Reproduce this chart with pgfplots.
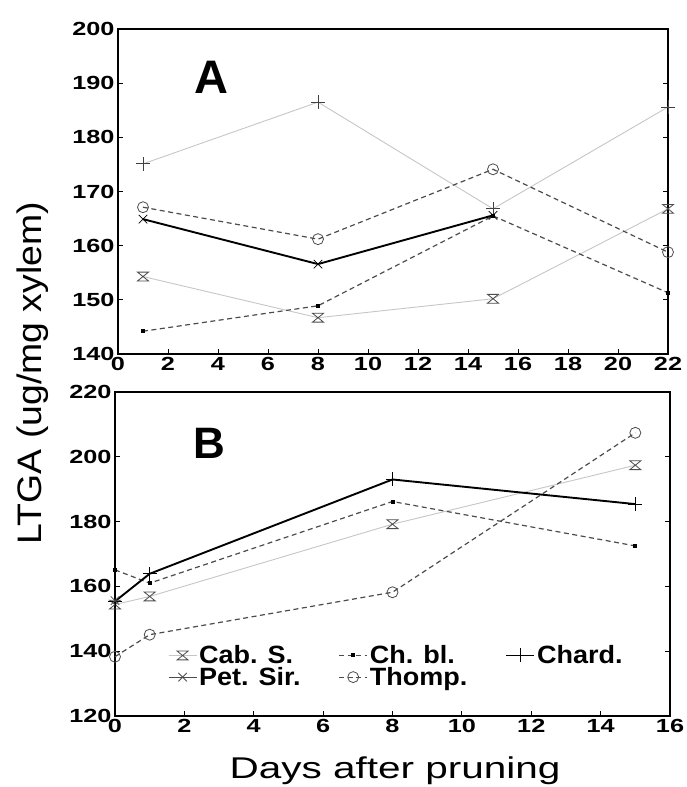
\documentclass[border=0pt]{standalone}
\usepackage{fontspec}
\setmainfont{Liberation Sans}
\newfontfamily\tickfont[FakeStretch=1.33]{Liberation Sans Bold}
\newfontfamily\legfont[FakeStretch=1.08]{Liberation Sans Bold}
\newfontfamily\labfont[FakeStretch=1.35]{Liberation Sans}
\newfontfamily\ylabfont[FakeStretch=1.1]{Liberation Sans}
\usepackage{pgfplots}
\pgfplotsset{compat=1.18}

\pgfdeclareplotmark{hourglass}{%
  \pgfpathmoveto{\pgfqpoint{-\pgfplotmarksize}{0.8\pgfplotmarksize}}%
  \pgfpathlineto{\pgfqpoint{\pgfplotmarksize}{0.8\pgfplotmarksize}}%
  \pgfpathlineto{\pgfqpoint{-\pgfplotmarksize}{-0.8\pgfplotmarksize}}%
  \pgfpathlineto{\pgfqpoint{\pgfplotmarksize}{-0.8\pgfplotmarksize}}%
  \pgfpathclose
  \pgfusepathqstroke}

\pgfplotsset{
  panel/.style={
    scale only axis, anchor=south west,
    axis line style={line width=1.3pt},
    tick style={black, line width=0.8pt},
    major tick length=5pt, tick align=inside,
    xtick pos=left, ytick pos=both, yticklabel pos=left,
    ticklabel style={font=\tickfont\fontsize{19}{20}\selectfont},
    /pgf/number format/assume math mode=true,
    clip=false,
    legend image code/.code={\draw[mark repeat=2,mark phase=2] plot coordinates {(0pt,0pt)(14pt,0pt)(28pt,0pt)};},
  },
  cabS/.style={gray!45, line width=0.9pt, mark=hourglass, mark size=5.5pt, mark options={solid, black!70, line width=0.8pt}},
  petS/.style={black, line width=1.9pt, mark=x, mark size=6pt, mark options={solid, line width=0.8pt}},
  chardL/.style={gray!45, line width=0.9pt, mark=+, mark size=7pt, mark options={solid, black!75, line width=0.8pt}},
  chardB/.style={black, line width=1.9pt, mark=+, mark size=7pt, mark options={solid, line width=0.9pt}},
  chbl/.style={black!70, line width=1.2pt, dash pattern=on 5pt off 3.5pt, mark=square*, mark size=1.4pt, mark options={solid, black}},
  thomp/.style={black!70, line width=1.2pt, dash pattern=on 5pt off 3.5pt, mark=o, mark size=5.5pt, mark options={solid, line width=0.8pt}},
}

\begin{document}
\begin{tikzpicture}
\useasboundingbox (0pt,0pt) rectangle (686pt,-787pt);

% Panel A
\begin{axis}[panel, at={(118pt,-354pt)}, width=550pt, height=325pt,
  xmin=0, xmax=22, ymin=140, ymax=200,
  xtick={0,2,...,22}, ytick={140,150,...,200}]
\addplot[cabS] coordinates {(1,154.3) (8,146.7) (15,150.2) (22,166.8)};
\addplot[chardL] coordinates {(1,175.1) (8,186.5) (15,166.8) (22,185.6)};
\addplot[chbl] coordinates {(1,144.2) (8,148.9) (15,165.5) (22,151.3)};
\addplot[thomp] coordinates {(1,167.1) (8,161.2) (15,174.1) (22,158.8)};
\addplot[petS] coordinates {(1,164.9) (8,156.6) (15,165.6)};
\node[anchor=base west, font=\bfseries\fontsize{47}{50}\selectfont] at (rel axis cs:0.133,0.803) {A};
\end{axis}

% Panel B
\begin{axis}[panel, at={(115pt,-716pt)}, width=555pt, height=324pt,
  xmin=0, xmax=16, ymin=120, ymax=220,
  xtick={0,2,...,16}, ytick={120,140,...,220},
  legend columns=3,
  legend style={draw=none, fill=none, at={(0.09,0.23)}, anchor=north west,
    font=\legfont\fontsize{25}{25}\selectfont,
    row sep=-2pt, column sep=0pt,
    /tikz/every even column/.append style={column sep=36pt}},
  legend cell align=left]
\addplot[cabS] coordinates {(0,154.4) (1,156.9) (8,179.2) (15,197.4)};
\addlegendentry{Cab. S.}
\addplot[chbl] coordinates {(0,165.1) (1,161.0) (8,186.2) (15,172.5)};
\addlegendentry{Ch. bl.}
\addplot[chardB] coordinates {(0,155.4) (1,163.9) (8,193.0) (15,185.4)};
\addlegendentry{Chard.}
\addplot[black!70, line width=0.8pt, mark=x, mark size=6pt, mark options={solid}] coordinates {(0,155.6)};
\addlegendentry{Pet. Sir.}
\addplot[thomp] coordinates {(0,138.3) (1,145.1) (8,158.2) (15,207.4)};
\addlegendentry{Thomp.}
\node[anchor=base west, font=\bfseries\fontsize{44}{47}\selectfont] at (rel axis cs:0.135,0.796) {B};
\end{axis}

\node[rotate=90, anchor=base, font=\ylabfont\fontsize{34}{36}\selectfont] at (41pt,-373pt) {LTGA (ug/mg xylem)};
\node[anchor=base, font=\labfont\fontsize{30}{32}\selectfont] at (395pt,-778pt) {Days after pruning};
\end{tikzpicture}
\end{document}
